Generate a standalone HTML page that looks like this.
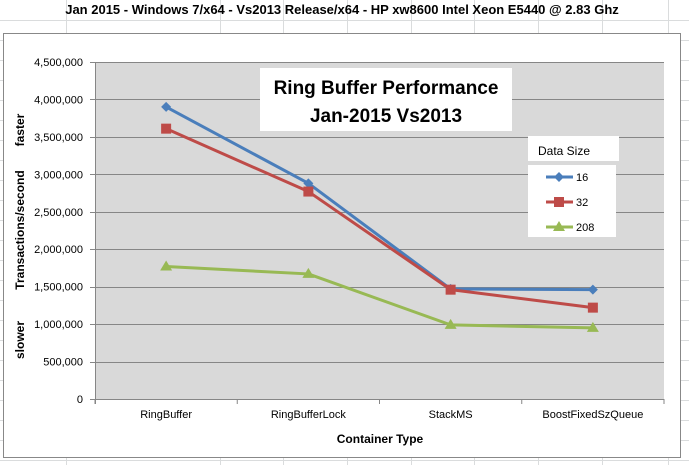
<!DOCTYPE html>
<html><head><meta charset="utf-8"><style>
body{margin:0;width:689px;height:465px;overflow:hidden;background:#fff;font-family:"Liberation Sans",sans-serif}
svg{display:block}
</style></head><body>
<svg id="c" width="689" height="465" xmlns="http://www.w3.org/2000/svg">
<g id="sheet" stroke="#dadcdd" stroke-width="1"></g>
<text x="342" y="14" text-anchor="middle" font-size="13" font-weight="bold" fill="#000">Jan 2015 - Windows 7/x64 - Vs2013 Release/x64 - HP xw8600 Intel Xeon E5440 @ 2.83 Ghz</text>
<rect x="3.5" y="33.5" width="677" height="424" fill="#fff" stroke="#888"/>
<rect x="95" y="62" width="569" height="337" fill="#d9d9d9"/>
<g id="grid"></g>
<g id="yt"></g>
<g id="xt"></g>
<text transform="translate(24,230) rotate(-90)" text-anchor="middle" font-size="12" font-weight="bold">Transactions/second</text>
<text transform="translate(24,130) rotate(-90)" text-anchor="middle" font-size="12" font-weight="bold">faster</text>
<text transform="translate(24,340) rotate(-90)" text-anchor="middle" font-size="12" font-weight="bold">slower</text>
<text x="380" y="443" text-anchor="middle" font-size="12" font-weight="bold">Container Type</text>
<g id="series"></g>
<rect x="260" y="68" width="252" height="63" fill="#fff"/>
<text x="386" y="94" text-anchor="middle" font-size="19" font-weight="bold">Ring Buffer Performance</text>
<text x="386" y="122" text-anchor="middle" font-size="19" font-weight="bold">Jan-2015 Vs2013</text>
<rect x="528" y="136" width="91" height="25" fill="#fff"/>
<text x="538" y="155" font-size="12">Data Size</text>
<rect x="528" y="165" width="88" height="72" fill="#fff"/>
<g id="leg"></g>
</svg>
<script>
const categories=["RingBuffer","RingBufferLock","StackMS","BoostFixedSzQueue"];
const s16=[3900000,2880000,1470000,1460000];
const s32=[3610000,2770000,1460000,1220000];
const s208=[1770000,1670000,990000,950000];
const yTicks=[0,500000,1000000,1500000,2000000,2500000,3000000,3500000,4000000,4500000];
const seriesNames=["16","32","208"];
const NS="http://www.w3.org/2000/svg";
const L=95,R=664,T=62,B=399,YMAX=4500000;
function y(v){return B-(v/YMAX)*(B-T);}
function x(i){return L+(R-L)/categories.length*(i+0.5);}
function mk(tag,at,p){const e=document.createElementNS(NS,tag);for(const k in at)e.setAttribute(k,at[k]);p.appendChild(e);return e;}
const sheet=document.getElementById('sheet');
[66,220,283,347,411,474,538,602,668].forEach(cx=>mk('line',{x1:cx+.5,y1:0,x2:cx+.5,y2:465},sheet));
for(let ry=20;ry<465;ry+=20)mk('line',{x1:0,y1:ry+.5,x2:689,y2:ry+.5},sheet);
const g=document.getElementById('grid'),yt=document.getElementById('yt'),xt=document.getElementById('xt');
yTicks.forEach(v=>{
 const l=mk('line',{x1:L,x2:R,y1:Math.round(y(v))+.5,y2:Math.round(y(v))+.5,stroke:'#868686'},g);
 
 
 mk('line',{x1:L-5,x2:L,y1:Math.round(y(v))+.5,y2:Math.round(y(v))+.5,stroke:'#868686'},yt);
 const t=mk('text',{x:L-12,y:y(v)+4,'text-anchor':'end','font-size':11},yt);
 t.textContent=v.toLocaleString('en-US');
 
 
});
mk('line',{x1:L+.5,x2:L+.5,y1:T,y2:B+5,stroke:'#868686'},yt);
mk('line',{x1:L,x2:R,y1:B+.5,y2:B+.5,stroke:'#868686'},xt);
for(let i=0;i<=categories.length;i++){const xx=L+(R-L)/categories.length*i;mk('line',{x1:xx,x2:xx,y1:B,y2:B+5,stroke:'#868686'},xt);}
categories.forEach((c,i)=>{const t=mk('text',{x:x(i),y:418,'text-anchor':'middle','font-size':11},xt);t.textContent=c;
 
 });
const colors=["#4a7ebb","#be4b48","#98b954"];
const data=[s16,s32,s208];
function marker(k,cx,cy,p){
 if(k===0)return mk('polygon',{points:`${cx},${cy-5} ${cx+5},${cy} ${cx},${cy+5} ${cx-5},${cy}`,fill:colors[0]},p);
 if(k===1)return mk('rect',{x:cx-5,y:cy-5,width:10,height:10,fill:colors[1]},p);
 return mk('polygon',{points:`${cx},${cy-6} ${cx+6},${cy+4} ${cx-6},${cy+4}`,fill:colors[2]},p);
}
const sg=document.getElementById('series');
data.forEach((arr,k)=>{
 const pl=mk('polyline',{points:arr.map((v,i)=>x(i)+','+y(v)).join(' '),fill:'none',stroke:colors[k],'stroke-width':3,'stroke-linejoin':'round'},sg);
 
 
 arr.forEach((v,i)=>{const m=marker(k,x(i),y(v),sg);
  
  });
});
const lg=document.getElementById('leg');
seriesNames.forEach((n,k)=>{
 const yy=177+k*25;
 mk('line',{x1:546,x2:573,y1:yy,y2:yy,stroke:colors[k],'stroke-width':3},lg);
 marker(k,559,yy,lg);
 const t=mk('text',{x:576,y:yy+4,'font-size':11},lg);t.textContent=n;
 
 
});
</script>
</body></html>
